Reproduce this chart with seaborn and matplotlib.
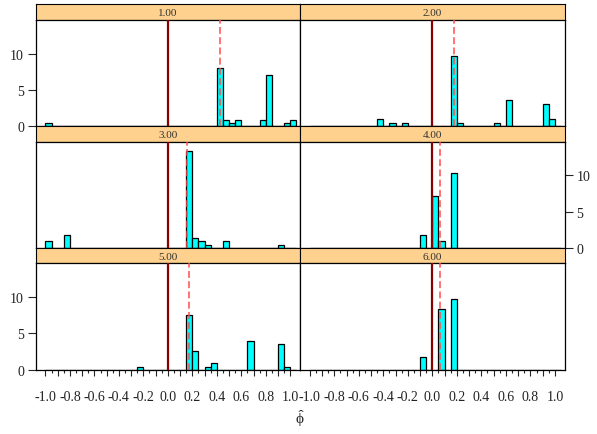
import numpy as np
import pandas as pd
import matplotlib
matplotlib.use("Agg")
import matplotlib.pyplot as plt
from matplotlib.ticker import FixedLocator
import seaborn as sns

# panel labels (strip text)
panels = ["1.00", "2.00", "3.00", "4.00", "5.00", "6.00"]

# bin mid points (phi-hat) and histogram density per panel
mids_1 = [-0.975, 0.425, 0.475, 0.525, 0.575, 0.775, 0.825, 0.975, 1.025]
dens_1 = [0.45, 8.0, 0.85, 0.45, 0.85, 0.85, 7.1, 0.45, 0.85]
mids_2 = [-0.425, -0.325, -0.225, 0.175, 0.225, 0.525, 0.625, 0.925, 0.975]
dens_2 = [0.9, 0.45, 0.45, 9.7, 0.45, 0.45, 3.55, 3.05, 0.9]
mids_3 = [-0.975, -0.825, 0.175, 0.225, 0.275, 0.325, 0.475, 0.925]
dens_3 = [0.9, 1.75, 13.4, 1.3, 0.9, 0.42, 0.9, 0.42]
mids_4 = [-0.075, 0.025, 0.075, 0.175]
dens_4 = [1.75, 7.1, 0.9, 10.3]
mids_5 = [-0.225, 0.175, 0.225, 0.325, 0.375, 0.675, 0.925, 0.975]
dens_5 = [0.4, 7.55, 2.6, 0.4, 0.88, 4.0, 3.55, 0.4]
mids_6 = [-0.075, 0.075, 0.175]
dens_6 = [1.7, 8.4, 9.8]

# true value (solid line) and centre of estimates (dashed line)
true_phi = 0.0
centre_phi = [0.43, 0.175, 0.16, 0.062, 0.17, 0.062]

all_mids = [mids_1, mids_2, mids_3, mids_4, mids_5, mids_6]
all_dens = [dens_1, dens_2, dens_3, dens_4, dens_5, dens_6]
df = pd.concat([pd.DataFrame({"phi": m, "density": d, "panel": p})
                for m, d, p in zip(all_mids, all_dens, panels)], ignore_index=True)

sns.set_style("white")
plt.rcParams["font.family"] = ["Liberation Serif", "DejaVu Serif"]
# upright greek in math text
plt.rcParams["mathtext.fontset"] = "custom"
plt.rcParams["mathtext.rm"] = "Liberation Serif"
plt.rcParams["mathtext.it"] = "Liberation Serif"

W, H = 597, 435
fig = plt.figure(figsize=(W / 100, H / 100), dpi=100)

col_x = [35.7, 300.0]
col_w = [264.3, 264.7]
row_h = 121.85
strip_h = 15.7
top0 = 5.0

tenths = np.round(np.arange(-10, 11) * 0.1, 1)
tenth_labels = [f"{v:.1f}" if k % 2 == 0 else "" for k, v in enumerate(tenths)]
halves = np.round(np.arange(-19, 20, 2) * 0.05, 2)

for i, p in enumerate(panels):
    r, c = i // 2, i % 2
    top = top0 + r * row_h
    # strip
    sax = fig.add_axes([col_x[c] / W, (H - top - strip_h) / H, col_w[c] / W, strip_h / H])
    sax.set_facecolor("#FFD18F")
    sax.set_xticks([])
    sax.set_yticks([])
    for s in sax.spines.values():
        s.set_color("black")
        s.set_linewidth(0.8)
    sax.text(0.5, 0.45, p, ha="center", va="center", fontsize=8, color="#333333",
             transform=sax.transAxes)

    ax = fig.add_axes([col_x[c] / W, (H - top - row_h) / H, col_w[c] / W, (row_h - strip_h) / H])
    sub = df[df["panel"] == p]
    sns.histplot(data=sub, x="phi", weights="density", binwidth=0.05, binrange=(-1.0, 1.05),
                 stat="count", color="#00FFFF", edgecolor="black", linewidth=0.9, alpha=1, ax=ax)
    ax.axvline(true_phi, color="#8B0000", lw=1.6, zorder=3)
    ax.axvline(centre_phi[i], color="#FF4D4D", lw=1.1, ls=(0, (4.5, 2.2)), zorder=4)
    ax.set_xlim(-1.08, 1.08)
    ax.set_ylim(0, 14.7)
    ax.set_xlabel("")
    ax.set_ylabel("")
    for s in ax.spines.values():
        s.set_color("black")
        s.set_linewidth(0.9)

    # y axis alternates like lattice
    if r == 1 and c == 1:
        ax.yaxis.tick_right()
        ax.set_yticks([0, 5, 10])
        ax.tick_params(axis="y", right=True, left=False, length=5.5, width=0.8,
                       labelsize=10, pad=3, labelcolor="#222222")
    elif r != 1 and c == 0:
        ax.set_yticks([0, 5, 10])
        ax.tick_params(axis="y", left=True, length=5.5, width=0.8, labelsize=10, pad=3,
                       labelcolor="#222222")
    else:
        ax.set_yticks([])

    if r == 2:
        ax.set_xticks(tenths)
        ax.set_xticklabels(tenth_labels)
        ax.xaxis.set_minor_locator(FixedLocator(halves))
        ax.tick_params(axis="x", which="major", bottom=True, length=4.5, width=0.8,
                       labelsize=10, pad=10, labelcolor="#222222")
        ax.tick_params(axis="x", which="minor", bottom=True, length=2.5, width=0.8)
    else:
        ax.set_xticks([])

# x axis title: phi with a hat
fig.text(300 / W, (H - 419) / H, r"$\hat{\phi}$", ha="center", va="center", fontsize=11,
         color="#222222")

fig.savefig("out.png", dpi=100)
